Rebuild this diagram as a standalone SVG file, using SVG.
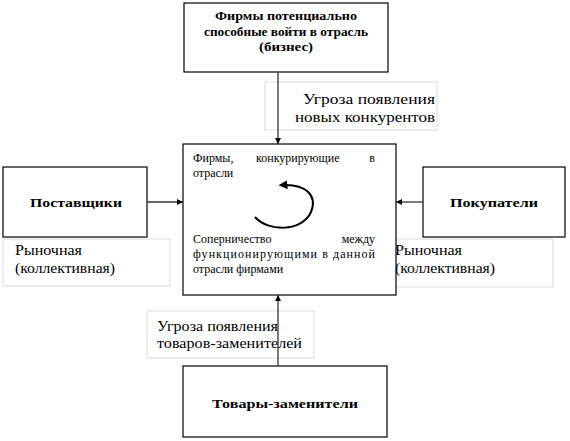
<svg xmlns="http://www.w3.org/2000/svg" width="570" height="441" viewBox="0 0 570 441">
<style>
.box{fill:#fff;stroke:#000;stroke-width:1.2}
.lbl{fill:#fff;stroke:#dcdcdc;stroke-width:1}
.b{font-weight:bold;font-size:13px}
.tb{font-weight:bold;font-size:12px}
.r{font-size:14px}
.c{font-size:12px}
.con{stroke:#333;stroke-width:1.3;fill:none}
</style>
<defs>
<marker id="ah" viewBox="0 0 10 10" refX="10" refY="5" markerWidth="6" markerHeight="6" orient="auto" markerUnits="userSpaceOnUse">
<path d="M0,0 L10,5 L0,10 z" fill="#000"/>
</marker>
<marker id="ah2" viewBox="0 0 10 10" refX="5" refY="5" markerWidth="9" markerHeight="9" orient="auto" markerUnits="userSpaceOnUse">
<path d="M0,0 L10,5 L0,10 z" fill="#000"/>
</marker>
</defs>
<rect width="570" height="441" fill="#fff"/>
<g font-family="Liberation Serif, Tinos, DejaVu Serif, serif" fill="#000">
<g id="label-new">
<rect class="lbl" x="265" y="82" width="172" height="48"/>
<text class="r" x="303" y="104" textLength="132" lengthAdjust="spacingAndGlyphs">Угроза появления</text>
<text class="r" x="295" y="122" textLength="140" lengthAdjust="spacingAndGlyphs">новых конкурентов</text>
</g>
<g id="label-left">
<rect class="lbl" x="3" y="239" width="167" height="47"/>
<text class="r" x="15" y="255" textLength="67" lengthAdjust="spacingAndGlyphs">Рыночная</text>
<text class="r" x="15" y="273" textLength="100" lengthAdjust="spacingAndGlyphs">(коллективная)</text>
</g>
<g id="label-right">
<rect class="lbl" x="387" y="239" width="166" height="48"/>
<text class="r" x="395" y="255" textLength="67" lengthAdjust="spacingAndGlyphs">Рыночная</text>
<text class="r" x="395" y="273" textLength="100" lengthAdjust="spacingAndGlyphs">(коллективная)</text>
</g>
<g id="label-sub">
<rect class="lbl" x="147" y="311" width="167" height="47"/>
<text class="r" x="157" y="331" textLength="121" lengthAdjust="spacingAndGlyphs">Угроза появления</text>
<text class="r" x="157" y="348" textLength="145" lengthAdjust="spacingAndGlyphs">товаров-заменителей</text>
</g>

<g id="entrants">
<rect class="box" x="184" y="3" width="204" height="69"/>
<text class="tb" x="286" y="20" text-anchor="middle" textLength="142" lengthAdjust="spacingAndGlyphs">Фирмы потенциально</text>
<text class="tb" x="286" y="36" text-anchor="middle" textLength="164" lengthAdjust="spacingAndGlyphs">способные войти в  отрасль</text>
<text class="tb" x="286" y="51" text-anchor="middle" textLength="54" lengthAdjust="spacingAndGlyphs">(бизнес)</text>
</g>

<g id="rivals">
<rect class="box" x="183" y="144" width="213" height="151"/>
<text class="c" y="162"><tspan x="193">Фирмы,</tspan><tspan x="256">конкурирующие</tspan><tspan x="375" text-anchor="end">в</tspan></text>
<text class="c" x="193" y="177">отрасли</text>
<path d="M255,217 C268,232 302,232 311,212 C318,195 305,184 283,185" fill="none" stroke="#000" stroke-width="2" marker-end="url(#ah2)"/>
<text class="c" y="243"><tspan x="193">Соперничество</tspan><tspan x="375" text-anchor="end">между</tspan></text>
<text class="c" x="193" y="258" textLength="182" lengthAdjust="spacing">функционирующими в данной</text>
<text class="c" x="193" y="273">отрасли фирмами</text>
</g>

<g id="suppliers">
<rect class="box" x="3" y="167" width="144" height="70"/>
<text class="b" x="76" y="207" text-anchor="middle" textLength="92" lengthAdjust="spacingAndGlyphs">Поставщики</text>
</g>

<g id="buyers">
<rect class="box" x="423" y="167" width="142" height="70"/>
<text class="b" x="494" y="207" text-anchor="middle" textLength="88" lengthAdjust="spacingAndGlyphs">Покупатели</text>
</g>

<g id="substitutes">
<rect class="box" x="183" y="366" width="204" height="71"/>
<text class="b" x="285" y="408" text-anchor="middle" textLength="146" lengthAdjust="spacingAndGlyphs">Товары-заменители</text>
</g>
</g>
<g id="connectors">
<line class="con" x1="278" y1="72" x2="278" y2="144" marker-end="url(#ah)"/>
<line class="con" x1="147" y1="202" x2="183" y2="202" marker-end="url(#ah)"/>
<line class="con" x1="423" y1="202" x2="396" y2="202" marker-end="url(#ah)"/>
<line class="con" x1="278" y1="366" x2="278" y2="295" marker-end="url(#ah)"/>
</g>
</svg>
